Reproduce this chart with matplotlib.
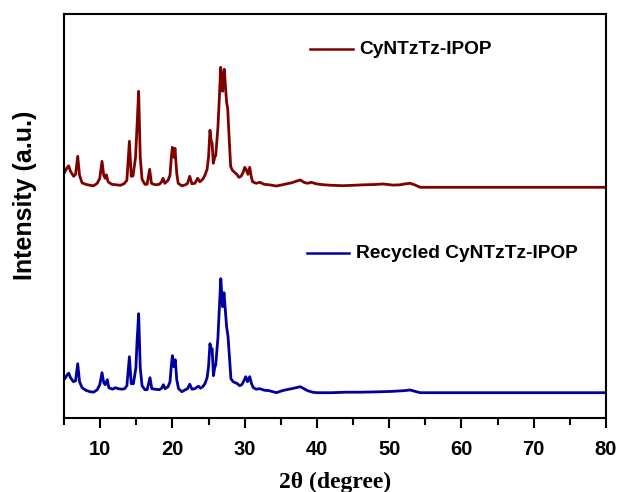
import matplotlib
matplotlib.use("Agg")
import matplotlib.pyplot as plt
from matplotlib.ticker import MultipleLocator
from matplotlib.lines import Line2D

# --- data (2theta in degree, intensity in a.u. counts) ---
fresh_2theta = [5.0, 5.2, 5.45, 5.65, 5.9, 6.34, 6.6, 6.9, 7.15, 7.5, 8.0, 8.6, 9.1, 9.6, 9.95,
                10.26, 10.5, 10.7, 10.86, 11.1, 11.6, 12.2, 12.8, 13.3, 13.7, 14.05, 14.3, 14.55,
                14.9, 15.1, 15.33, 15.55, 15.8, 16.2, 16.5, 16.85, 17.1, 17.6, 18.2, 18.5, 18.7,
                18.95, 19.4, 19.67, 19.85, 20.0, 20.2, 20.36, 20.6, 20.8, 21.3, 21.8, 22.1, 22.4,
                22.7, 23.1, 23.5, 23.8, 24.2, 24.5, 24.8, 25.0, 25.2, 25.35, 25.5, 25.66, 25.85,
                26.0, 26.3, 26.5, 26.68, 26.85, 26.95, 27.18, 27.35, 27.5, 27.65, 27.85, 28.06,
                28.3, 28.6, 28.9, 29.2, 29.5, 29.8, 30.0, 30.2, 30.45, 30.7, 30.9, 31.1, 31.6,
                32.1, 32.7, 33.4, 34.4, 35.2, 35.8, 36.5, 37.1, 37.7, 38.2, 38.7, 39.2, 40.0,
                41.0, 42.0, 43.6, 45.0, 46.5, 48.0, 49.2, 50.5, 51.5, 52.3, 52.9, 53.5, 54.3,
                56.0, 80.0]
fresh_intensity = [140, 165, 200, 215, 160, 110, 130, 310, 120, 45, 30, 20, 15, 40, 90,
                   260, 120, 90, 125, 55, 30, 25, 20, 35, 70, 460, 110, 115,
                   300, 600, 960, 300, 80, 30, 30, 180, 40, 25, 30, 55, 90,
                   40, 70, 120, 300, 400, 300, 390, 140, 40, 15, 25, 40, 110,
                   35, 40, 90, 55, 80, 120, 180, 300, 570, 470, 440, 240, 300,
                   320, 600, 900, 1200, 1100, 960, 1180, 1000, 850, 790, 500, 210,
                   170, 150, 130, 100, 110, 150, 200, 180, 130, 200, 110, 55, 40,
                   50, 30, 25, 13, 25, 35, 45, 60, 73, 50, 40, 50, 33,
                   25, 20, 16, 20, 25, 28, 33, 22, 25, 35, 40, 25, 0,
                   0, 0]

recycled_2theta = [5.0, 5.2, 5.45, 5.65, 5.9, 6.3, 6.6, 6.9, 7.15, 7.5, 8.0, 8.6, 9.1, 9.6, 9.95,
                   10.26, 10.5, 10.7, 11.0, 11.2, 11.7, 12.1, 12.5, 13.0, 13.4, 13.7, 14.05, 14.3,
                   14.6, 14.95, 15.1, 15.33, 15.55, 15.8, 16.2, 16.5, 16.9, 17.15, 17.6, 18.2, 18.5,
                   18.75, 19.0, 19.4, 19.67, 19.85, 20.0, 20.2, 20.4, 20.6, 20.85, 21.3, 21.8, 22.1,
                   22.4, 22.7, 23.1, 23.6, 23.9, 24.2, 24.5, 24.8, 25.0, 25.2, 25.35, 25.5, 25.68,
                   25.85, 26.0, 26.3, 26.5, 26.7, 26.85, 26.95, 27.14, 27.3, 27.5, 27.7, 27.9, 28.1,
                   28.4, 28.7, 29.0, 29.3, 29.6, 29.9, 30.15, 30.4, 30.7, 30.95, 31.2, 31.6, 32.1,
                   32.7, 33.4, 34.4, 35.2, 35.8, 36.5, 37.1, 37.7, 38.2, 38.7, 39.4, 40.0, 42.0,
                   44.0, 46.0, 48.0, 50.0, 52.0, 52.9, 53.5, 54.3, 80.0]
recycled_intensity = [130, 150, 180, 195, 150, 110, 120, 290, 110, 50, 25, 10, 5, 30, 80,
                      200, 100, 80, 130, 50, 35, 50, 40, 35, 40, 70, 360, 90,
                      90, 250, 500, 790, 250, 70, 30, 30, 150, 40, 35, 30, 45,
                      80, 40, 60, 110, 270, 370, 260, 330, 130, 40, 10, 30, 40,
                      85, 35, 40, 65, 45, 60, 90, 150, 260, 490, 420, 440, 170,
                      250, 280, 550, 850, 1140, 960, 860, 1000, 850, 660, 560, 350, 140,
                      110, 100, 90, 70, 80, 120, 160, 110, 160, 90, 50, 35, 40,
                      25, 20, 0, 20, 30, 40, 50, 60, 40, 20, 5, 0, 0,
                      5, 5, 8, 12, 20, 27, 15, 0, 0]

fresh_offset = 2054
series_labels = ["CyNTzTz-IPOP", "Recycled CyNTzTz-IPOP"]
series_colors = ["#800000", "#0000A0"]
x_ticks = [10, 20, 30, 40, 50, 60, 70, 80]

# --- figure ---
fig = plt.figure(figsize=(6.19, 4.92), dpi=100)
ax = fig.add_axes([64 / 619, 1 - 418 / 492, 542 / 619, 404 / 492])

ax.plot(fresh_2theta, [v + fresh_offset for v in fresh_intensity],
        color=series_colors[0], lw=2.0, solid_joinstyle="round")
ax.plot(recycled_2theta, recycled_intensity,
        color=series_colors[1], lw=2.0, solid_joinstyle="round")

ax.set_xlim(5, 80)
ax.set_ylim(-253, 3787)
ax.set_xticks(x_ticks)
ax.xaxis.set_minor_locator(MultipleLocator(5))
ax.set_yticks([])

for s in ax.spines.values():
    s.set_linewidth(1.5)
ax.tick_params(axis="x", which="major", length=7, width=1.5, direction="out", pad=9)
ax.tick_params(axis="x", which="minor", length=5, width=1.5, direction="out")
for lab in ax.get_xticklabels():
    lab.set_fontfamily("Liberation Sans")
    lab.set_fontweight("bold")
    lab.set_fontsize(14.5)

ax.set_xlabel("2θ (degree)", fontfamily="Liberation Serif", fontweight="bold",
              fontsize=17, labelpad=9)
ax.set_ylabel("Intensity (a.u.)", fontfamily="Liberation Sans", fontweight="bold",
              fontsize=18)
ax.yaxis.set_label_coords(-0.05, 0.552)

# legend-style labels
ax.add_line(Line2D([0.454, 0.533], [0.9126, 0.9126], transform=ax.transAxes,
                   color=series_colors[0], lw=1.8))
ax.text(0.544, 0.9126, series_labels[0], transform=ax.transAxes, va="center", ha="left",
        fontfamily="Liberation Sans", fontweight="bold", fontsize=13.8)
ax.add_line(Line2D([0.448, 0.526], [0.4077, 0.4077], transform=ax.transAxes,
                   color=series_colors[1], lw=1.8))
ax.text(0.539, 0.4077, series_labels[1], transform=ax.transAxes, va="center", ha="left",
        fontfamily="Liberation Sans", fontweight="bold", fontsize=13.8)

fig.savefig("out.png", dpi=100)
